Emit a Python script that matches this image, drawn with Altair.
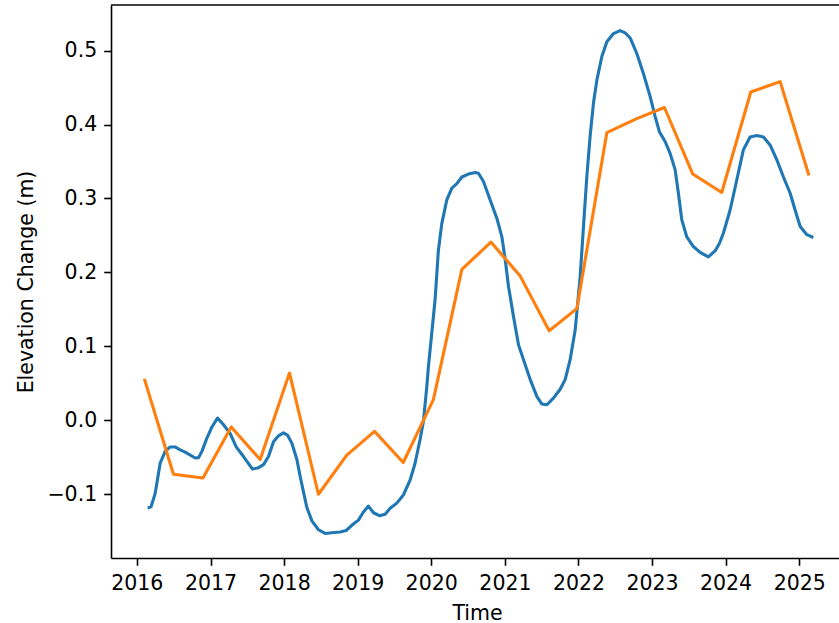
import altair as alt
import pandas as pd

# Smoothed elevation series (decimal year, metres)
blue_time = [
    2016.167, 2016.194, 2016.249, 2016.317, 2016.385, 2016.452, 2016.52, 2016.588,
    2016.656, 2016.792, 2016.837, 2016.883, 2016.951, 2017.019, 2017.095, 2017.177,
    2017.268, 2017.349, 2017.448, 2017.571, 2017.652, 2017.720, 2017.788, 2017.856,
    2017.924, 2017.992, 2018.046, 2018.106, 2018.174, 2018.219, 2018.264, 2018.310,
    2018.378, 2018.467, 2018.558, 2018.649, 2018.762, 2018.844, 2018.921, 2019.011,
    2019.079, 2019.147, 2019.215, 2019.296, 2019.374, 2019.442, 2019.533, 2019.622,
    2019.713, 2019.781, 2019.849, 2019.894, 2019.940, 2019.962, 2020.053, 2020.098,
    2020.144, 2020.212, 2020.280, 2020.348, 2020.416, 2020.505, 2020.596, 2020.641,
    2020.709, 2020.800, 2020.891, 2020.959, 2021.004, 2021.049, 2021.117, 2021.185,
    2021.253, 2021.344, 2021.435, 2021.503, 2021.571, 2021.660, 2021.751, 2021.819,
    2021.887, 2021.955, 2022.023, 2022.068, 2022.114, 2022.159, 2022.204, 2022.250,
    2022.318, 2022.386, 2022.476, 2022.567, 2022.635, 2022.703, 2022.793, 2022.883,
    2022.974, 2023.042, 2023.101, 2023.178, 2023.246, 2023.314, 2023.359, 2023.405,
    2023.473, 2023.562, 2023.654, 2023.766, 2023.857, 2023.916, 2023.970, 2024.061,
    2024.152, 2024.242, 2024.333, 2024.424, 2024.514, 2024.605, 2024.696, 2024.785,
    2024.876, 2024.944, 2025.012, 2025.103, 2025.171,
]
blue_value = [
    -0.118, -0.117, -0.099, -0.058, -0.042, -0.036, -0.036, -0.040,
    -0.043, -0.051, -0.0505, -0.042, -0.024, -0.009, 0.003, -0.006,
    -0.018, -0.036, -0.049, -0.066, -0.064, -0.060, -0.049, -0.029,
    -0.021, -0.017, -0.020, -0.031, -0.053, -0.076, -0.097, -0.118,
    -0.136, -0.148, -0.153, -0.152, -0.151, -0.149, -0.142, -0.135,
    -0.124, -0.116, -0.125, -0.129, -0.127, -0.119, -0.112, -0.101,
    -0.081, -0.058, -0.026, -0.002, 0.045, 0.072, 0.163, 0.230,
    0.266, 0.298, 0.314, 0.320, 0.329, 0.333, 0.335, 0.334,
    0.323, 0.298, 0.273, 0.248, 0.217, 0.181, 0.140, 0.102,
    0.082, 0.055, 0.032, 0.022, 0.021, 0.030, 0.042, 0.055,
    0.082, 0.122, 0.194, 0.262, 0.330, 0.385, 0.429, 0.460,
    0.492, 0.512, 0.523, 0.527, 0.524, 0.517, 0.496, 0.469,
    0.438, 0.411, 0.390, 0.377, 0.361, 0.339, 0.307, 0.271,
    0.248, 0.235, 0.227, 0.221, 0.229, 0.239, 0.253, 0.284,
    0.325, 0.366, 0.383, 0.385, 0.383, 0.372, 0.352, 0.329,
    0.307, 0.284, 0.262, 0.251, 0.248,
]

# Survey epochs (decimal year, metres)
orange_time = [
    2016.109, 2016.497, 2016.897, 2017.281, 2017.675, 2018.073, 2018.467, 2018.853,
    2019.230, 2019.620, 2020.030, 2020.416, 2020.810, 2021.208, 2021.602, 2021.978,
    2022.386, 2022.793, 2023.169, 2023.554, 2023.948, 2024.342, 2024.740, 2025.125,
]
orange_value = [
    0.054, -0.073, -0.078, -0.009, -0.053, 0.064, -0.100, -0.047,
    -0.015, -0.057, 0.028, 0.204, 0.241, 0.195, 0.121, 0.151,
    0.389, 0.408, 0.423, 0.333, 0.308, 0.444, 0.458, 0.333,
]

year_ticks = list(range(2016, 2026))
value_ticks = [-0.1, 0.0, 0.1, 0.2, 0.3, 0.4, 0.5]


def to_timestamp(decimal_year):
    year = int(decimal_year)
    start = pd.Timestamp(year, 1, 1)
    end = pd.Timestamp(year + 1, 1, 1)
    return start + (end - start) * (decimal_year - year)


blue_df = pd.DataFrame({"time": [to_timestamp(t) for t in blue_time], "value": blue_value})
orange_df = pd.DataFrame({"time": [to_timestamp(t) for t in orange_time], "value": orange_value})

FONT = "DejaVu Sans"
W, H = 728, 553

x_enc = alt.X(
    "time:T",
    title="Time",
    scale=alt.Scale(domain=[alt.DateTime(year=2015, month=8, date=26),
                            alt.DateTime(year=2025, month=7, date=17)], nice=False),
    axis=alt.Axis(
        values=[alt.DateTime(year=y, month=1, date=1) for y in year_ticks],
        format="%Y",
        grid=False,
        labelPadding=8,
        titleX=366,
        titleY=61,
        titleBaseline="alphabetic",
        titleAlign="center",
    ),
)
y_enc = alt.Y(
    "value:Q",
    title="Elevation Change (m)",
    scale=alt.Scale(domain=[-0.1862, 0.5616], nice=False, zero=False),
    axis=alt.Axis(
        values=value_ticks,
        format=".1f",
        grid=False,
        labelPadding=7,
        titleX=-78.5,
        titleY=H / 2,
        titleAngle=270,
        titleBaseline="alphabetic",
        titleAlign="center",
    ),
)

blue = alt.Chart(blue_df).mark_line(
    color="#1f77b4", strokeWidth=3.1, strokeJoin="round", strokeCap="square"
).encode(x=x_enc, y=y_enc)

orange = alt.Chart(orange_df).mark_line(
    color="#ff7f0e", strokeWidth=3.1, strokeJoin="round", strokeCap="square"
).encode(x=x_enc, y=y_enc)

# top spine (the frame has no right edge inside the canvas)
top_spine = alt.Chart(pd.DataFrame({"k": [0]})).mark_rule(
    color="black", strokeWidth=1.6
).encode(x=alt.value(0), x2=alt.value(W), y=alt.value(0))

chart = (
    alt.layer(blue, orange, top_spine)
    .properties(
        width=W,
        height=H,
        background="white",
        padding={"left": 111, "top": 5, "right": 0, "bottom": 65},
        autosize=alt.AutoSizeParams(type="none"),
    )
    .configure_view(stroke=None)
    .configure_axis(
        labelFont=FONT,
        titleFont=FONT,
        labelFontSize=20.5,
        titleFontSize=20.5,
        titleFontWeight="normal",
        labelColor="black",
        titleColor="black",
        domainColor="black",
        domainWidth=1.6,
        tickColor="black",
        tickWidth=1.6,
        tickSize=7.3,
    )
)

chart.save("out.html", embed_options={"renderer": "svg", "actions": False})
